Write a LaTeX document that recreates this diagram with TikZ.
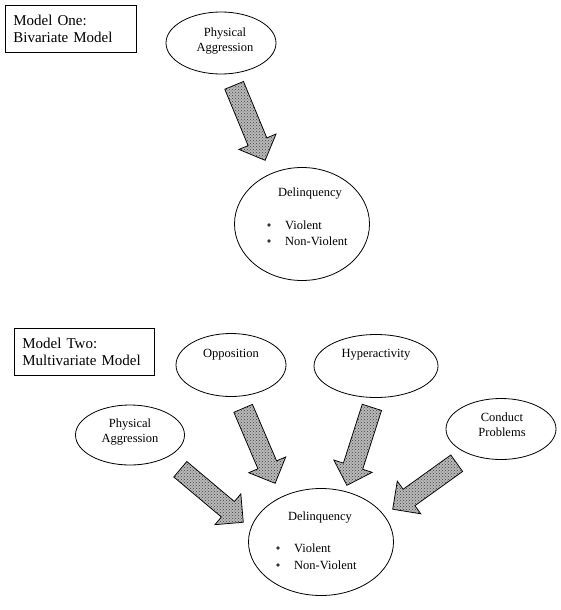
\documentclass[tikz,border=0pt]{standalone}
\usepackage{fontspec}
\setmainfont{Liberation Serif}
\usetikzlibrary{shapes.geometric,shapes.arrows,patterns,calc}
\tikzset{
  ell/.style={draw, ellipse, line width=0.8pt, inner sep=0pt},
  lbl/.style={font=\fontsize{12.5}{15}\selectfont, align=center, inner sep=0pt},
  bul/.style={circle, fill=black!80, inner sep=0pt, minimum size=3.6pt},
  modelbox/.style={draw, line width=0.8pt, align=left, font=\fontsize{15}{16.5}\selectfont,
    inner xsep=8pt, inner ysep=0pt, anchor=north west},
  fatarr/.style={single arrow, draw=black, line width=0.75pt,
    preaction={fill=gray!55}, pattern=crosshatch dots, pattern color=black!75,
    inner xsep=0pt, inner ysep=9.75pt, minimum width=1pt,
    single arrow head extend=10pt, single arrow tip angle=90, anchor=tail}
}
\newcommand\fatarrow[2]{%
  \path let \p1=(#1), \p2=(#2),
    \n1={atan2(\y2-\y1,\x2-\x1)}, \n2={veclen(\x2-\x1,\y2-\y1)} in
    node[fatarr, rotate=\n1, minimum height=\n2] at (\p1) {};%
}
\begin{document}
\begin{tikzpicture}[x=1pt,y=-1pt]
\useasboundingbox (0,0) rectangle (560,610);

% ---------- Model One ----------
\node[modelbox, text width=115pt, minimum height=47pt] (m1) at (5,5) {Model One:\\Bivariate Model};

\node[ell, minimum width=110pt, minimum height=62pt] (pa1) at (221,43) {};
\node[lbl] (pa1t) at (225,41) {Physical\\Aggression};

\node[ell, minimum width=135pt, minimum height=113pt] (d1) at (302,224) {};
\node[lbl] (d1t) at (310,194) {Delinquency};
\node[bul] (d1b1) at (269,225) {};
\node[lbl, anchor=west] (d1v) at (285,225) {Violent};
\node[bul] (d1b2) at (269,241) {};
\node[lbl, anchor=west] (d1n) at (285,241) {Non-Violent};

\coordinate (a1s) at (234,85);
\coordinate (a1e) at (265,160);
\fatarrow{a1s}{a1e}

% ---------- Model Two ----------
\node[modelbox, text width=124pt, minimum height=47pt] (m2) at (14,328) {Model Two:\\Multivariate Model};

\node[ell, minimum width=110pt, minimum height=63pt] (opp) at (231,365) {};
\node[lbl] (oppt) at (231,355) {Opposition};

\node[ell, minimum width=124pt, minimum height=63pt] (hyp) at (376,366) {};
\node[lbl] (hypt) at (376,355) {Hyperactivity};

\node[ell, minimum width=109pt, minimum height=60pt] (pa2) at (130,435) {};
\node[lbl] (pa2t) at (130,432) {Physical\\Aggression};

\node[ell, minimum width=110pt, minimum height=61pt] (cp) at (501,429) {};
\node[lbl] (cpt) at (502,425) {Conduct\\Problems};

\node[ell, minimum width=145pt, minimum height=107pt] (d2) at (321,542) {};
\node[lbl] (d2t) at (320,518) {Delinquency};
\node[bul] (d2b1) at (278,548) {};
\node[lbl, anchor=west] (d2v) at (294,548) {Violent};
\node[bul] (d2b2) at (278,565) {};
\node[lbl, anchor=west] (d2n) at (294,565) {Non-Violent};

\coordinate (a2s) at (243,408);  \coordinate (a2e) at (275,483);
\coordinate (a3s) at (372,407);  \coordinate (a3e) at (347,485);
\coordinate (a4s) at (180,469);  \coordinate (a4e) at (243,522);
\coordinate (a5s) at (457,463);  \coordinate (a5e) at (393,509);
\fatarrow{a2s}{a2e}
\fatarrow{a3s}{a3e}
\fatarrow{a4s}{a4e}
\fatarrow{a5s}{a5e}
\end{tikzpicture}
\end{document}
